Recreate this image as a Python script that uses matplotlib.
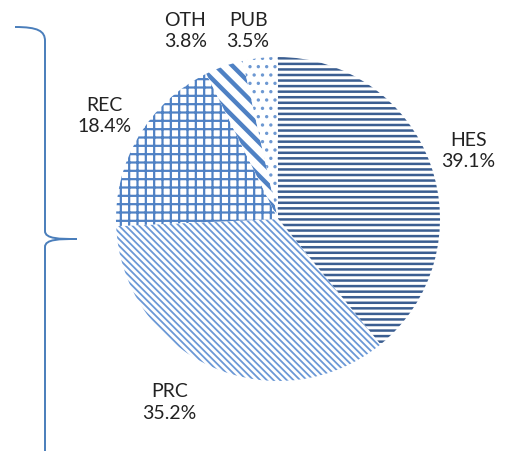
import numpy as np
import matplotlib
matplotlib.use("Agg")
import matplotlib.pyplot as plt
from matplotlib.path import Path
from matplotlib.patches import PathPatch

# data
categories = ["HES", "PRC", "REC", "OTH", "PUB"]
shares = [39.1, 35.2, 18.4, 3.8, 3.5]

# styles (one per slice)
hatches = ["---", "\\\\\\\\\\", "++", "\\\\", ".."]
hatch_colors = ["#3b5e91", "#6a98d6", "#4f81c4", "#4f81c4", "#6d98d2"]
hatch_widths = [1.8, 1.3, 1.6, 3.2, 1.2]
label_dist = [1.25, 1.31, 1.25, 1.30, 1.18]      # in pie radii
label_shift = [0.4, -6.6, -0.4, 6.7, 2.7]        # degrees from wedge middle

CENTER = (278, 232)
RADIUS = 162

plt.rcParams["font.family"] = ["Lato", "DejaVu Sans"]

fig = plt.figure(figsize=(5.05, 4.52), dpi=100)
ax = fig.add_axes([0, 0, 1, 1])

wedges, _ = ax.pie(shares, startangle=90, counterclock=False,
                   center=CENTER, radius=RADIUS, frame=True)
for w, h, col, lw in zip(wedges, hatches, hatch_colors, hatch_widths):
    w.set_facecolor("white")
    w.set_edgecolor(col)
    w.set_linewidth(0)
    if hasattr(w, "set_hatch_linewidth"):
        w.set_hatch_linewidth(lw)
    w.set_hatch(h)

for w, cat, val, d, s in zip(wedges, categories, shares, label_dist, label_shift):
    ang = np.deg2rad((w.theta1 + w.theta2) / 2 + s)
    ax.text(CENTER[0] + RADIUS * d * np.cos(ang),
            CENTER[1] + RADIUS * d * np.sin(ang),
            f"{cat}\n{val:.1f}%", ha="center", va="center",
            fontsize=14, color="#222222", linespacing=1.3)

# curly brace on the left
verts = [(15, 424), (38, 424), (45, 420), (45, 410),
         (45, 220),
         (45, 212), (60, 212), (77, 212),
         (60, 212), (45, 212), (45, 204),
         (45, -5)]
codes = [Path.MOVETO, Path.CURVE4, Path.CURVE4, Path.CURVE4,
         Path.LINETO,
         Path.CURVE4, Path.CURVE4, Path.CURVE4,
         Path.CURVE4, Path.CURVE4, Path.CURVE4,
         Path.LINETO]
ax.add_patch(PathPatch(Path(verts, codes), facecolor="none",
                       edgecolor="#4a7ebb", linewidth=1.4))

ax.set_xlim(0, 505)
ax.set_ylim(0, 452)
ax.set_aspect("equal")
ax.axis("off")

fig.savefig("out.png", dpi=100)
